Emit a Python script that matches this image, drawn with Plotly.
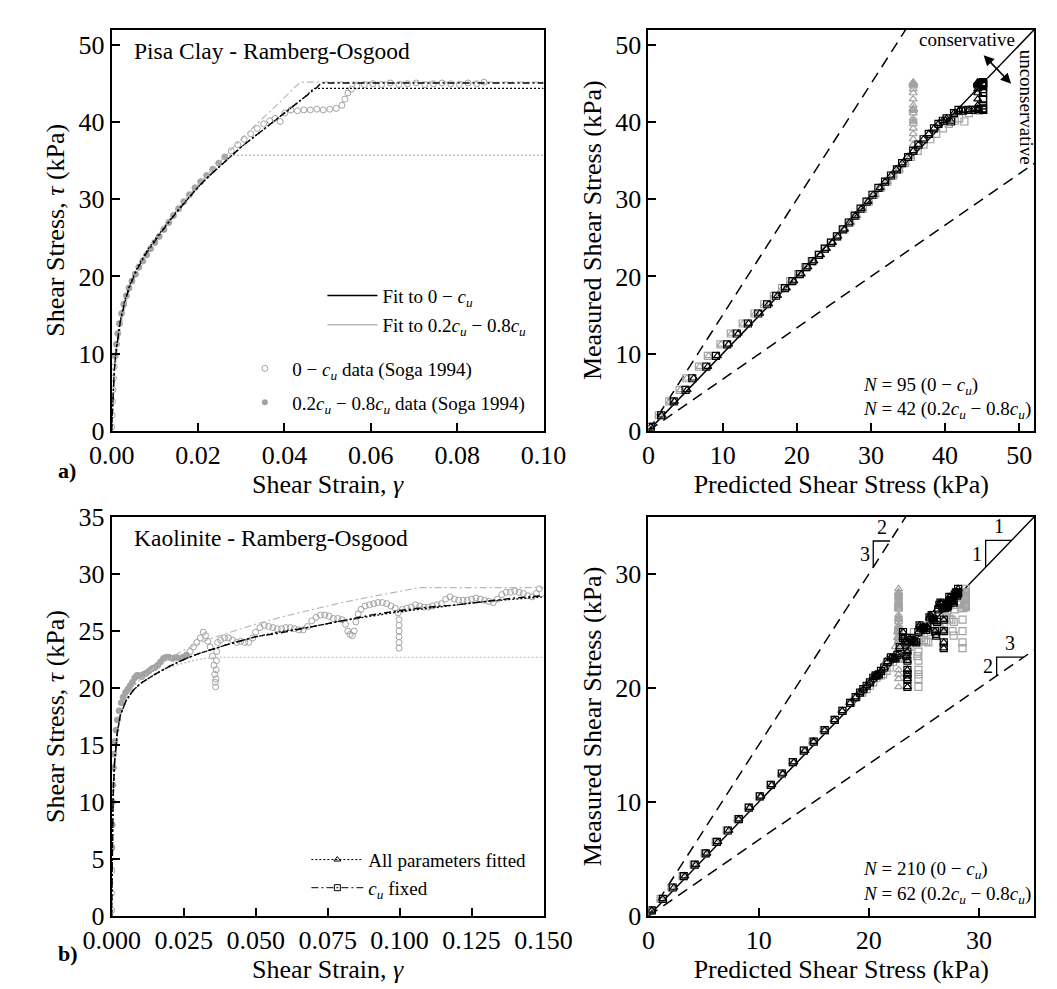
import plotly.graph_objects as go

W, H = 1057, 989
FONT = "Liberation Serif"
BLACK = "#000000"
GREY = "#a3a3a3"
LGREY = "#b8b8b8"

# ---------------- a) Pisa Clay: measured data (Soga 1994) ----------------
strain_a = [0.0000, 0.0001, 0.0002, 0.0003, 0.0004, 0.0006, 0.0008, 0.0011, 0.0014, 0.0018,
            0.0023, 0.0028, 0.0034, 0.0040, 0.0047, 0.0055, 0.0063, 0.0072, 0.0081, 0.0090,
            0.0100, 0.0110, 0.0121, 0.0132, 0.0143, 0.0155, 0.0167, 0.0180, 0.0193, 0.0206,
            0.0220, 0.0234, 0.0248, 0.0262, 0.0277, 0.0292, 0.0307, 0.0322, 0.0337, 0.0352,
            0.0366, 0.0378, 0.0390, 0.0401, 0.0415, 0.0430, 0.0445, 0.0460, 0.0475, 0.0490,
            0.0505, 0.0520, 0.0533, 0.0540, 0.0547, 0.0555, 0.0568, 0.0585, 0.0605, 0.0625,
            0.0645, 0.0665, 0.0685, 0.0705, 0.0725, 0.0745, 0.0765, 0.0785, 0.0805, 0.0825,
            0.0845, 0.0862]
tau_a = [0.5, 2.0, 3.8, 5.3, 6.8, 8.3, 9.7, 11.2, 12.6, 13.9,
         15.2, 16.4, 17.5, 18.5, 19.4, 20.3, 21.2, 22.0, 22.8, 23.6,
         24.4, 25.2, 26.1, 27.0, 27.9, 28.8, 29.7, 30.6, 31.5, 32.3,
         33.1, 33.9, 34.7, 35.5, 36.3, 37.1, 37.8, 38.5, 39.2, 39.8,
         40.2, 40.5, 40.1, 41.2, 41.6, 41.5, 41.6, 41.6, 41.7, 41.6,
         41.7, 41.8, 42.2, 43.0, 43.8, 44.3, 44.7, 44.9, 45.0, 44.9,
         45.1, 44.9, 45.0, 45.1, 44.9, 45.0, 45.1, 45.0, 44.9, 45.1,
         45.0, 45.2]
cu_a = 45.0

# fits (a)
fa_blk_dot_x = [0, 0.0003, 0.0006, 0.001, 0.0015, 0.002, 0.003, 0.004, 0.005, 0.006, 0.008, 0.010, 0.0125,
                0.015, 0.0175, 0.020, 0.0225, 0.025, 0.0275, 0.030, 0.0325, 0.035, 0.0375, 0.040, 0.0425,
                0.045, 0.0468, 0.100]
fa_blk_dot_y = [0, 5.2, 8.0, 10.4, 12.6, 14.3, 16.8, 18.6, 20.0, 21.2, 23.2, 24.8, 26.6,
                28.4, 30.0, 31.6, 33.0, 34.3, 35.6, 36.8, 37.9, 39.0, 40.1, 41.2, 42.3,
                43.4, 44.4, 44.4]
fa_blk_dd_x = [0, 0.0003, 0.0006, 0.001, 0.0015, 0.002, 0.003, 0.004, 0.005, 0.006, 0.008, 0.010, 0.0125,
               0.015, 0.0175, 0.020, 0.0225, 0.025, 0.0275, 0.030, 0.0325, 0.035, 0.0375, 0.040, 0.0425,
               0.045, 0.0475, 0.0485, 0.100]
fa_blk_dd_y = [0, 5.0, 7.8, 10.2, 12.4, 14.1, 16.6, 18.4, 19.8, 21.0, 23.0, 24.6, 26.5,
               28.3, 30.0, 31.6, 33.0, 34.3, 35.6, 36.8, 37.9, 39.0, 40.1, 41.2, 42.3,
               43.3, 44.5, 45.1, 45.1]
fa_gry_dd_x = [0, 0.0003, 0.0006, 0.001, 0.0015, 0.002, 0.003, 0.004, 0.005, 0.006, 0.008, 0.010, 0.0125,
               0.015, 0.0175, 0.020, 0.0225, 0.025, 0.0275, 0.030, 0.0325, 0.035, 0.0375, 0.040, 0.0425,
               0.0438, 0.100]
fa_gry_dd_y = [0, 4.2, 6.8, 9.2, 11.5, 13.3, 16.0, 18.0, 19.6, 20.9, 23.0, 24.7, 26.7,
               28.6, 30.3, 31.9, 33.4, 34.9, 36.4, 37.8, 39.2, 40.5, 41.9, 43.2, 44.6,
               45.2, 45.2]
fa_gry_dot_x = [0, 0.0003, 0.0006, 0.001, 0.0015, 0.002, 0.003, 0.004, 0.005, 0.006, 0.008, 0.010, 0.0125,
                0.015, 0.0175, 0.020, 0.0225, 0.025, 0.0268, 0.100]
fa_gry_dot_y = [0, 4.3, 6.9, 9.3, 11.6, 13.4, 16.1, 18.1, 19.7, 21.0, 23.1, 24.8, 26.8,
                28.6, 30.3, 31.9, 33.4, 34.8, 35.7, 35.7]

# predicted vs measured (a)
meas_a = tau_a
pred_a_tri_blk = [0.3, 1.8, 3.5, 5.2, 6.1, 8.0, 9.3, 10.8, 12.1, 13.5,
                  15.0, 16.2, 17.4, 18.6, 19.6, 20.6, 21.5, 22.3, 23.2, 24.0,
                  24.8, 25.5, 26.4, 27.1, 27.9, 28.7, 29.6, 30.3, 31.2, 31.9,
                  32.7, 33.4, 34.2, 34.9, 35.7, 36.4, 37.1, 37.8, 38.5, 39.1,
                  39.7, 40.2, 40.8, 41.2, 41.9, 42.5, 43.2, 43.9, 44.4, 44.4,
                  44.4, 44.4, 44.4, 44.4, 44.4, 44.4, 44.4, 44.4, 44.4, 44.4,
                  44.4, 44.4, 44.4, 44.4, 44.4, 44.4, 44.4, 44.4, 44.4, 44.4,
                  44.4, 44.4]
pred_a_sq_blk = [0.3, 1.7, 3.4, 5.0, 5.9, 7.8, 9.1, 10.6, 11.9, 13.4,
                 14.8, 16.0, 17.2, 18.4, 19.4, 20.4, 21.3, 22.1, 23.0, 23.8,
                 24.6, 25.4, 26.2, 27.0, 27.8, 28.6, 29.4, 30.2, 31.0, 31.9,
                 32.7, 33.5, 34.2, 35.0, 35.7, 36.4, 37.1, 37.8, 38.5, 39.1,
                 39.7, 40.2, 40.8, 41.2, 41.8, 42.4, 43.1, 43.7, 44.5, 45.1,
                 45.1, 45.1, 45.1, 45.1, 45.1, 45.1, 45.1, 45.1, 45.1, 45.1,
                 45.1, 45.1, 45.1, 45.1, 45.1, 45.1, 45.1, 45.1, 45.1, 45.1,
                 45.1, 45.1]
pred_a_sq_gry = [0.2, 1.4, 2.8, 4.2, 5.1, 6.8, 8.0, 9.7, 11.1, 12.7,
                 14.3, 15.6, 16.9, 18.0, 19.1, 20.2, 21.1, 22.0, 22.9, 23.7,
                 24.7, 25.5, 26.4, 27.2, 28.0, 28.9, 29.7, 30.5, 31.3, 32.2,
                 33.0, 33.8, 34.6, 35.4, 36.3, 37.1, 38.0, 38.8, 39.7, 40.5,
                 41.3, 41.9, 42.6, 43.2, 43.9, 44.6, 45.2, 45.2, 45.2, 45.2,
                 45.2, 45.2, 45.2, 45.2, 45.2, 45.2, 45.2, 45.2, 45.2, 45.2,
                 45.2, 45.2, 45.2, 45.2, 45.2, 45.2, 45.2, 45.2, 45.2, 45.2,
                 45.2, 45.2]
pred_a_tri_gry = [0.2, 1.4, 2.9, 4.3, 5.2, 6.9, 8.1, 9.8, 11.2, 12.8,
                  14.4, 15.7, 17.0, 18.1, 19.2, 20.3, 21.2, 22.1, 23.0, 23.8,
                  24.8, 25.6, 26.5, 27.3, 28.1, 28.9, 29.7, 30.6, 31.4, 32.2,
                  33.0, 33.8, 34.6, 35.3, 35.7, 35.7, 35.7, 35.7, 35.7, 35.7,
                  35.7, 35.7, 35.7, 35.7, 35.7, 35.7, 35.7, 35.7, 35.7, 35.7,
                  35.7, 35.7, 35.7, 35.7, 35.7, 35.7, 35.7, 35.7, 35.7, 35.7,
                  35.7, 35.7, 35.7, 35.7, 35.7, 35.7, 35.7, 35.7, 35.7, 35.7,
                  35.7, 35.7]

# ---------------- b) Kaolinite: measured data ----------------
strain_b = [0.0000, 0.0000, 0.0001, 0.0001, 0.0002, 0.0003, 0.0004, 0.0006, 0.0008, 0.0011,
            0.0015, 0.0020, 0.0026, 0.0033, 0.0040, 0.0048, 0.0056, 0.0064, 0.0072, 0.0080,
            0.0088, 0.0096, 0.0104, 0.0112, 0.0120, 0.0130, 0.0140, 0.0150, 0.0160, 0.0170,
            0.0180, 0.0190, 0.0200, 0.0212, 0.0224, 0.0236, 0.0248, 0.0260, 0.0272, 0.0284,
            0.0296, 0.0308, 0.0318, 0.0326, 0.0334, 0.0342, 0.0350, 0.0355, 0.0358, 0.0360,
            0.0361, 0.0362, 0.0363, 0.0364, 0.0365, 0.0368, 0.0378, 0.0392, 0.0406, 0.0420,
            0.0434, 0.0448, 0.0462, 0.0476, 0.0490, 0.0500, 0.0515, 0.0530, 0.0545, 0.0560,
            0.0575, 0.0590, 0.0605, 0.0620, 0.0635, 0.0650, 0.0665, 0.0680, 0.0695, 0.0710,
            0.0725, 0.0740, 0.0755, 0.0770, 0.0785, 0.0800, 0.0812, 0.0820, 0.0828, 0.0836,
            0.0842, 0.0848, 0.0856, 0.0866, 0.0880, 0.0895, 0.0910, 0.0925, 0.0940, 0.0955,
            0.0970, 0.0985, 0.0995, 0.0998, 0.0998, 0.0998, 0.0998, 0.0998, 0.0998, 0.1010,
            0.1025, 0.1040, 0.1055, 0.1070, 0.1085, 0.1100, 0.1115, 0.1130, 0.1145, 0.1160,
            0.1175, 0.1190, 0.1205, 0.1220, 0.1235, 0.1250, 0.1265, 0.1280, 0.1295, 0.1310,
            0.1325, 0.1340, 0.1355, 0.1370, 0.1385, 0.1400, 0.1415, 0.1430, 0.1445, 0.1460,
            0.1475, 0.1485]
tau_b = [0.5, 2.0, 4.0, 6.0, 8.0, 10.0, 11.5, 13.0, 14.2, 15.3,
         16.3, 17.2, 18.0, 18.7, 19.2, 19.6, 19.9, 20.2, 20.5, 20.9,
         21.1, 21.1, 21.0, 21.2, 21.3, 21.5, 21.7, 21.8, 22.0, 22.3,
         22.6, 22.7, 22.7, 22.6, 22.7, 22.6, 22.7, 22.9, 23.2, 23.6,
         24.0, 24.4, 24.9, 24.6, 24.1, 23.6, 22.8, 22.0, 21.2, 20.5,
         20.1, 20.8, 21.6, 22.4, 23.2, 24.0, 24.2, 24.4, 24.4, 24.2,
         24.0, 24.1, 24.0, 24.0, 24.4, 24.9, 25.3, 25.5, 25.4, 25.3,
         25.2, 25.2, 25.3, 25.3, 25.2, 25.1, 25.1, 25.4, 25.9, 26.2,
         26.4, 26.4, 26.3, 26.1, 26.1, 26.0, 25.6, 25.0, 24.7, 24.6,
         25.0, 25.8, 26.5, 26.9, 27.2, 27.3, 27.4, 27.5, 27.5, 27.4,
         27.2, 27.0, 26.6, 26.0, 25.5, 25.0, 24.5, 24.0, 23.5, 26.9,
         27.0, 27.1, 27.3, 27.2, 27.1, 27.1, 27.2, 27.3, 27.4, 27.8,
         28.0, 27.8, 27.7, 27.7, 27.7, 27.8, 27.9, 27.8, 27.7, 27.6,
         27.5, 27.8, 28.2, 28.4, 28.4, 28.5, 28.4, 28.3, 28.1, 28.0,
         28.3, 28.7]
cu_b = 28.7

# fits (b)
fb_blk_dd_x = [0, 0.0002, 0.0005, 0.001, 0.002, 0.003, 0.005, 0.0075, 0.010, 0.015, 0.020, 0.025, 0.030,
               0.035, 0.040, 0.050, 0.060, 0.070, 0.080, 0.090, 0.100, 0.110, 0.120, 0.130, 0.140, 0.150]
fb_blk_dd_y = [0, 6.5, 10.5, 13.5, 16.2, 17.6, 18.9, 19.8, 20.4, 21.2, 21.9, 22.5, 23.0,
               23.4, 23.8, 24.5, 24.9, 25.4, 25.9, 26.4, 26.8, 27.1, 27.3, 27.6, 27.9, 28.1]
fb_blk_dot_x = [0, 0.0002, 0.0005, 0.001, 0.002, 0.003, 0.005, 0.0075, 0.010, 0.015, 0.020, 0.025, 0.030,
                0.035, 0.040, 0.050, 0.060, 0.070, 0.080, 0.090, 0.100, 0.110, 0.120, 0.130, 0.140, 0.150]
fb_blk_dot_y = [0, 6.6, 10.6, 13.6, 16.2, 17.6, 18.9, 19.8, 20.4, 21.2, 21.9, 22.5, 23.0,
                23.4, 23.8, 24.5, 25.0, 25.4, 25.9, 26.3, 26.7, 27.0, 27.3, 27.6, 27.8, 28.0]
fb_gry_dd_x = [0, 0.0002, 0.0005, 0.001, 0.002, 0.003, 0.005, 0.0075, 0.010, 0.015, 0.020, 0.025, 0.030,
               0.035, 0.040, 0.050, 0.060, 0.070, 0.080, 0.090, 0.100, 0.1065, 0.150]
fb_gry_dd_y = [0, 5.5, 9.5, 12.8, 16.0, 17.6, 19.1, 20.1, 20.8, 21.8, 22.6, 23.3, 23.9,
               24.4, 24.8, 25.6, 26.3, 26.9, 27.5, 28.0, 28.5, 28.8, 28.8]
fb_gry_dot_x = [0, 0.0002, 0.0005, 0.001, 0.002, 0.003, 0.005, 0.0075, 0.010, 0.015, 0.020, 0.025, 0.030,
                0.0355, 0.150]
fb_gry_dot_y = [0, 5.6, 9.6, 12.9, 16.0, 17.5, 18.9, 19.8, 20.4, 21.2, 21.8, 22.2, 22.5,
                22.7, 22.7]

# predicted vs measured (b)
meas_b = [0.5, 1.5, 2.5, 3.5, 4.5, 5.5, 6.5, 7.5, 8.5, 9.5,
          10.5, 11.5, 12.5, 13.5, 14.5, 15.3, 16.3, 17.2, 18.0, 18.7,
          19.2, 19.6, 19.9, 20.2, 20.5, 20.9, 21.1, 21.1, 21.2, 21.5,
          21.8, 22.3, 22.7, 22.6, 22.6, 22.9, 23.6, 24.4,
          24.9, 24.1, 22.8, 21.2, 20.1, 20.8, 21.6, 22.4, 23.2, 24.0,
          24.4, 24.2, 24.1, 24.0, 24.9, 25.5, 25.3, 25.2, 25.3, 25.1,
          25.4, 26.2, 26.4, 26.1, 26.0, 25.0, 24.6, 25.8, 26.9, 27.3,
          27.5, 27.4, 27.0, 26.0, 25.0, 24.0, 23.5, 27.0, 27.3, 27.1,
          27.2, 27.4, 28.0, 27.7, 27.7, 27.9, 27.7, 27.5, 28.2, 28.4,
          28.4, 28.1, 28.3, 28.7]
pred_b_tri_blk = [0.3, 1.3, 2.3, 3.3, 4.3, 5.3, 6.3, 7.3, 8.2, 9.2,
                  10.2, 11.2, 12.2, 13.2, 14.2, 15.0, 16.0, 16.9, 17.6, 18.3,
                  18.8, 19.2, 19.5, 19.8, 20.1, 20.4, 20.6, 20.7, 20.9, 21.1,
                  21.4, 21.7, 22.0, 22.2, 22.4, 22.6, 22.8, 23.1,
                  23.1, 23.3, 23.4, 23.5, 23.5, 23.5, 23.5, 23.5, 23.5, 23.5,
                  23.7, 23.9, 24.1, 24.3, 24.5, 24.6, 24.7, 24.9, 25.0, 25.2,
                  25.3, 25.5, 25.6, 25.8, 25.9, 26.0, 26.1, 26.1, 26.2, 26.4,
                  26.5, 26.6, 26.7, 26.8, 26.8, 26.8, 26.8, 26.9, 27.0, 27.1,
                  27.1, 27.2, 27.3, 27.3, 27.4, 27.5, 27.6, 27.7, 27.8, 27.9,
                  27.9, 28.0, 28.1, 28.1]
pred_b_sq_blk = [0.3, 1.3, 2.2, 3.2, 4.2, 5.2, 6.2, 7.2, 8.2, 9.1,
                 10.1, 11.1, 12.1, 13.1, 14.1, 15.0, 16.0, 16.9, 17.6, 18.3,
                 18.8, 19.2, 19.5, 19.8, 20.1, 20.4, 20.6, 20.7, 20.9, 21.1,
                 21.4, 21.7, 22.0, 22.2, 22.4, 22.6, 22.8, 23.1,
                 23.1, 23.3, 23.4, 23.5, 23.5, 23.5, 23.5, 23.5, 23.5, 23.5,
                 23.7, 23.9, 24.1, 24.3, 24.5, 24.6, 24.7, 24.9, 25.0, 25.2,
                 25.3, 25.5, 25.7, 25.8, 25.9, 26.0, 26.1, 26.2, 26.3, 26.4,
                 26.5, 26.6, 26.7, 26.8, 26.8, 26.8, 26.8, 26.9, 27.0, 27.1,
                 27.2, 27.2, 27.3, 27.4, 27.5, 27.5, 27.6, 27.7, 27.8, 27.9,
                 28.0, 28.0, 28.1, 28.1]
pred_b_sq_gry = [0.2, 1.1, 2.1, 3.1, 4.1, 5.1, 6.1, 7.1, 8.1, 9.1,
                 10.1, 11.1, 12.1, 13.1, 14.1, 14.9, 15.9, 16.9, 17.6, 18.4,
                 18.9, 19.4, 19.8, 20.1, 20.4, 20.7, 20.9, 21.1, 21.3, 21.6,
                 21.9, 22.2, 22.5, 22.8, 23.1, 23.4, 23.7, 24.0,
                 24.1, 24.2, 24.4, 24.5, 24.5, 24.5, 24.5, 24.5, 24.5, 24.5,
                 24.7, 25.0, 25.2, 25.4, 25.6, 25.8, 26.0, 26.2, 26.4, 26.6,
                 26.8, 27.0, 27.1, 27.3, 27.5, 27.6, 27.7, 27.7, 27.8, 28.0,
                 28.1, 28.3, 28.4, 28.5, 28.5, 28.5, 28.5, 28.6, 28.8, 28.8,
                 28.8, 28.8, 28.8, 28.8, 28.8, 28.8, 28.8, 28.8, 28.8, 28.8,
                 28.8, 28.8, 28.8, 28.8]
pred_b_tri_gry = [0.2, 1.1, 2.1, 3.1, 4.1, 5.1, 6.1, 7.1, 8.1, 9.1,
                  10.1, 11.1, 12.1, 13.1, 14.1, 14.9, 15.9, 16.8, 17.5, 18.2,
                  18.7, 19.1, 19.4, 19.7, 20.0, 20.3, 20.5, 20.7, 20.9, 21.1,
                  21.3, 21.5, 21.8, 22.0, 22.2, 22.3, 22.4, 22.6,
                  22.6, 22.7, 22.7, 22.7, 22.7, 22.7, 22.7, 22.7, 22.7, 22.7,
                  22.7, 22.7, 22.7, 22.7, 22.7, 22.7, 22.7, 22.7, 22.7, 22.7,
                  22.7, 22.7, 22.7, 22.7, 22.7, 22.7, 22.7, 22.7, 22.7, 22.7,
                  22.7, 22.7, 22.7, 22.7, 22.7, 22.7, 22.7, 22.7, 22.7, 22.7,
                  22.7, 22.7, 22.7, 22.7, 22.7, 22.7, 22.7, 22.7, 22.7, 22.7,
                  22.7, 22.7, 22.7, 22.7]

ref_slopes = [1.0, 1.5, 2.0 / 3.0]
CU = "<i>c<sub>u</sub></i>"

fig = go.Figure()


def fitted_range(sx, sy, cu):
    """Points of the first loading branch between 0.2cu and 0.8cu (used for the 0.2-0.8cu fit)."""
    fx, fy = [], []
    for s, t in zip(sx, sy):
        if t > 0.8 * cu:
            break
        if t >= 0.2 * cu:
            fx.append(s)
            fy.append(t)
    return fx, fy


def stress_strain(xa, ya, sx, sy, cu, fits):
    fx, fy = fitted_range(sx, sy, cu)
    fig.add_trace(go.Scatter(x=sx, y=sy, mode="markers", xaxis=xa, yaxis=ya, showlegend=False,
                             marker=dict(symbol="circle-open", size=6, color=GREY, line=dict(width=1))))
    fig.add_trace(go.Scatter(x=fx, y=fy, mode="markers", xaxis=xa, yaxis=ya, showlegend=False,
                             marker=dict(symbol="circle", size=6, color=GREY)))
    for fxs, fys, col, dash, w in fits:
        fig.add_trace(go.Scatter(x=fxs, y=fys, mode="lines", xaxis=xa, yaxis=ya, showlegend=False,
                                 line=dict(color=col, dash=dash, width=w)))


DOT = "2px,2px"
DD = "7px,3px,2px,3px"
stress_strain("x", "y", strain_a, tau_a, cu_a, [
    (fa_gry_dot_x, fa_gry_dot_y, LGREY, DOT, 1.2),
    (fa_gry_dd_x, fa_gry_dd_y, LGREY, DD, 1.2),
    (fa_blk_dot_x, fa_blk_dot_y, BLACK, DOT, 1.3),
    (fa_blk_dd_x, fa_blk_dd_y, BLACK, DD, 1.4),
])
stress_strain("x3", "y3", strain_b, tau_b, cu_b, [
    (fb_gry_dot_x, fb_gry_dot_y, LGREY, DOT, 1.2),
    (fb_gry_dd_x, fb_gry_dd_y, LGREY, DD, 1.2),
    (fb_blk_dot_x, fb_blk_dot_y, BLACK, DOT, 1.3),
    (fb_blk_dd_x, fb_blk_dd_y, BLACK, DD, 1.4),
])


def pred_meas(xa, ya, rmax, meas, p_sq_gry, p_tri_gry, p_sq_blk, p_tri_blk):
    for s in ref_slopes:
        fig.add_trace(go.Scatter(x=[0, rmax], y=[0, s * rmax], mode="lines", xaxis=xa, yaxis=ya,
                                 showlegend=False,
                                 line=dict(color=BLACK, width=1.5, dash=None if s == 1.0 else "11px,7px")))
    for pv, col, sym in [(p_sq_gry, GREY, "square-open"), (p_tri_gry, GREY, "triangle-up-open"),
                         (p_sq_blk, BLACK, "square-open"), (p_tri_blk, BLACK, "triangle-up-open")]:
        fig.add_trace(go.Scatter(x=pv, y=meas, mode="markers", xaxis=xa, yaxis=ya, showlegend=False,
                                 marker=dict(symbol=sym, size=7, color=col, line=dict(width=1.2))))


pred_meas("x2", "y2", 52, meas_a, pred_a_sq_gry, pred_a_tri_gry, pred_a_sq_blk, pred_a_tri_blk)
pred_meas("x4", "y4", 35, meas_b, pred_b_sq_gry, pred_b_tri_gry, pred_b_sq_blk, pred_b_tri_blk)


# ---------- legend entries (one small legend per entry for exact placement) ----------
def leg_entry(name, legend, mode, xa, ya, line=None, marker=None):
    fig.add_trace(go.Scatter(x=[None], y=[None], mode=mode, xaxis=xa, yaxis=ya, legend=legend,
                             name=name, line=line, marker=marker))


leg_entry("Fit to 0 − " + CU, "legend", "lines", "x", "y", line=dict(color=BLACK, width=1.5))
leg_entry("Fit to 0.2" + CU + " − 0.8" + CU, "legend2", "lines", "x", "y", line=dict(color=LGREY, width=1.5))
leg_entry("0 − " + CU + " data (Soga 1994)", "legend3", "markers", "x", "y",
          marker=dict(symbol="circle-open", size=6, color=GREY, line=dict(width=1)))
leg_entry("0.2" + CU + " − 0.8" + CU + " data (Soga 1994)", "legend4", "markers", "x", "y",
          marker=dict(symbol="circle", size=6, color=GREY))
leg_entry("All parameters fitted", "legend5", "lines+markers", "x3", "y3",
          line=dict(color=BLACK, width=1, dash=DOT),
          marker=dict(symbol="triangle-up-open", size=6, color=BLACK, line=dict(width=1)))
leg_entry(CU + " fixed", "legend6", "lines+markers", "x3", "y3",
          line=dict(color=BLACK, width=1, dash=DD),
          marker=dict(symbol="square-open", size=6, color=BLACK, line=dict(width=1)))


def legend_at(px, py, itemwidth):
    return dict(x=px / W, y=1 - py / H, xanchor="left", yanchor="middle", bgcolor="rgba(0,0,0,0)",
                font=dict(family=FONT, size=19, color=BLACK), itemwidth=itemwidth, tracegroupgap=0)


# ---------- axes ----------
def axis(domain, rng, dtick, title, anchor, fmt=None):
    d = dict(domain=domain, range=rng, dtick=dtick, tick0=0, anchor=anchor,
             showline=True, linewidth=2, linecolor=BLACK, mirror=True,
             ticks="inside", ticklen=8, tickwidth=1.8, tickcolor=BLACK,
             showgrid=False, zeroline=False,
             tickfont=dict(family=FONT, size=26, color=BLACK),
             title=dict(text=title, font=dict(family=FONT, size=26, color=BLACK), standoff=6))
    if fmt:
        d["tickformat"] = fmt
    return d


LX = [79 / W, 536 / W]
RX = [647 / W, 1055 / W]
TY = [1 - 421 / H, 1 - 8 / H]
BY = [1 - 921 / H, 1 - 510 / H]

fig.update_layout(
    width=W, height=H, margin=dict(l=0, r=0, t=0, b=0),
    paper_bgcolor="white", plot_bgcolor="white",
    font=dict(family=FONT, size=19, color=BLACK),
    xaxis=axis(LX, [0, 0.10], 0.02, "Shear Strain, <i>γ</i>", "y", ".2f"),
    yaxis=axis(TY, [0, 52], 10, "Shear Stress, <i>τ</i> (kPa)", "x"),
    xaxis2=axis(RX, [0, 52], 10, "Predicted Shear Stress (kPa)", "y2"),
    yaxis2=axis(TY, [0, 52], 10, "Measured Shear Stress (kPa)", "x2"),
    xaxis3=axis(LX, [0, 0.15], 0.025, "Shear Strain, <i>γ</i>", "y3", ".3f"),
    yaxis3=axis(BY, [0, 35], 5, "Shear Stress, <i>τ</i> (kPa)", "x3"),
    xaxis4=axis(RX, [0, 35], 10, "Predicted Shear Stress (kPa)", "y4"),
    yaxis4=axis(BY, [0, 35], 10, "Measured Shear Stress (kPa)", "x4"),
    legend=legend_at(302, 282, 50),
    legend2=legend_at(302, 312, 50),
    legend3=legend_at(212, 357, 45),
    legend4=legend_at(212, 392, 45),
    legend5=legend_at(285, 863, 52),
    legend6=legend_at(285, 892, 52),
)

# ---------- annotations ----------
ann = []


def txt(x, y, s, xref="paper", yref="paper", size=19, xa="center", ya="middle", angle=0, bold=False):
    ann.append(dict(x=x, y=y, xref=xref, yref=yref, text=("<b>%s</b>" % s) if bold else s,
                    showarrow=False, xanchor=xa, yanchor=ya, textangle=angle, align="left",
                    font=dict(family=FONT, size=size, color=BLACK)))


txt(100 / W, 1 - 30 / H, "Pisa Clay - Ramberg-Osgood", size=23.5, xa="left")
txt(100 / W, 1 - 532 / H, "Kaolinite - Ramberg-Osgood", size=23.5, xa="left")
txt(20 / W, 1 - 462 / H, "a)", size=22, xa="left", bold=True)
txt(20 / W, 1 - 960 / H, "b)", size=22, xa="left", bold=True)
txt(872 / W, 1 - 375 / H, "<i>N</i> = 95 (0 − " + CU + ")", xa="left")
txt(872 / W, 1 - 400 / H, "<i>N</i> = 42 (0.2" + CU + " − 0.8" + CU + ")", xa="left")
txt(872 / W, 1 - 874 / H, "<i>N</i> = 210 (0 − " + CU + ")", xa="left")
txt(872 / W, 1 - 899 / H, "<i>N</i> = 62 (0.2" + CU + " − 0.8" + CU + ")", xa="left")

# conservative / unconservative (top-right)
txt(42.9, 50.8, "conservative", xref="x2", yref="y2", size=19)
txt(50.9, 41.9, "unconservative", xref="x2", yref="y2", size=19, angle=90)
ann.append(dict(x=48.9, y=45.0, ax=45.0, ay=48.9, xref="x2", yref="y2", axref="x2", ayref="y2",
                text="", showarrow=True, arrowhead=2, startarrowhead=2, arrowside="end+start",
                arrowsize=1.3, arrowwidth=1.6, arrowcolor=BLACK))

# slope triangles (bottom-right)
shapes = []
for slope, x0, h, top_lbl, side_lbl in [(1.0, 30.6, 2.35, "1", "1"),
                                        (1.5, 20.4, 2.3, "2", "3"),
                                        (2.0 / 3.0, 31.6, 1.65, "3", "2")]:
    y0 = slope * x0
    x1 = (y0 + h) / slope
    shapes.append(dict(type="path", xref="x4", yref="y4",
                       path="M %f %f L %f %f L %f %f" % (x0, y0, x0, y0 + h, x1, y0 + h),
                       line=dict(color=BLACK, width=1.3)))
    txt((x0 + x1) / 2, y0 + h + 0.1, top_lbl, xref="x4", yref="y4", size=20, ya="bottom")
    txt(x0 - 0.15, y0 + h / 2, side_lbl, xref="x4", yref="y4", size=20, xa="right")

fig.update_layout(annotations=ann, shapes=shapes)
fig.write_html("out.html")
